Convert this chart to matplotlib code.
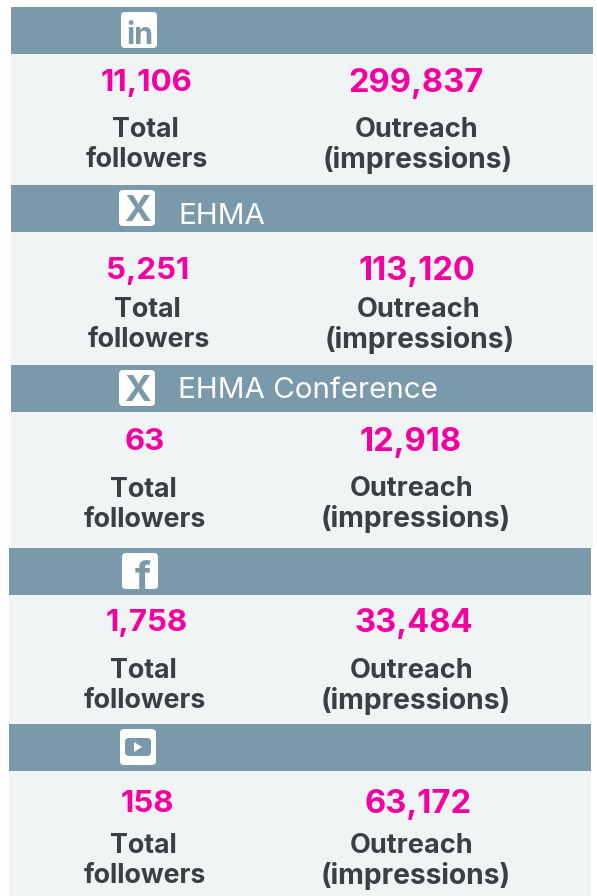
import matplotlib
matplotlib.use("Agg")
import matplotlib.pyplot as plt
from matplotlib.patches import Rectangle, FancyBboxPatch, Polygon

followers = ["11,106", "5,251", "63", "1,758", "158"]
impressions = ["299,837", "113,120", "12,918", "33,484", "63,172"]
titles = ["", "EHMA", "EHMA Conference", "", ""]
title_y = [0, 213, 388, 0, 0]
icons = ["in", "X", "X", "f", "yt"]

band_top = [7, 185, 365, 548, 724]
panel_bottom = [185, 365, 548, 724, 896]
left_edge = [11, 11, 11, 9, 9]
right_edge = [593, 593, 593, 591, 591]
icon_x = [121, 119, 119, 122, 120]
val_y = [80, 268, 439, 620, 801]
val_left_x = [146, 148, 145, 147, 147]
val_right_x = [416, 417, 411, 414, 418]
lab_y = [(127, 157), (307, 337), (487, 517), (668, 698), (843, 873)]
rlab_y = [(127, 157), (307, 337), (486, 516), (668, 698), (843, 873)]
lab_x = [(145, 147), (147, 149), (143, 145), (143, 145), (143, 145)]
rlab_x = [(417, 418), (419, 420), (412, 416), (412, 416), (412, 416)]

BAND = "#7a9aab"
PANEL = "#f0f4f5"
PINK = "#f400a1"
DARK = "#3a3f42"
FONT = "Inter"

fig = plt.figure(figsize=(5.97, 8.96), dpi=100)
ax = fig.add_axes([0, 0, 1, 1])
ax.set_xlim(0, 597)
ax.set_ylim(896, 0)
ax.axis("off")

for i in range(5):
    l, r, t = left_edge[i], right_edge[i], band_top[i]
    ax.add_patch(Rectangle((l, t), r - l, panel_bottom[i] - t, fc=PANEL, ec="none"))
    ax.add_patch(Rectangle((l, t), r - l, 47, fc=BAND, ec="none"))
    x0, y0 = icon_x[i], t + 5
    ax.add_patch(FancyBboxPatch((x0 + 3, y0 + 3), 30, 30, boxstyle="round,pad=3,rounding_size=4",
                                fc="white", ec="none"))
    cx, cy = x0 + 18, y0 + 18
    if icons[i] == "X":
        ax.text(cx, cy, "X", color=BAND, fontsize=26, fontweight="bold", family=FONT,
                ha="center", va="center_baseline")
    elif icons[i] == "in":
        ax.text(cx + 1, cy + 3, "in", color=BAND, fontsize=22, fontweight="bold", family=FONT,
                ha="center", va="center_baseline")
    elif icons[i] == "f":
        ax.text(cx + 3, cy + 4, "f", color=BAND, fontsize=29, fontweight="bold", family=FONT,
                ha="center", va="center_baseline", clip_on=False)
    else:
        ax.add_patch(FancyBboxPatch((cx - 11, cy - 7), 22, 14, boxstyle="round,pad=2,rounding_size=4",
                                    fc=BAND, ec="none"))
        ax.add_patch(Polygon([(cx - 4, cy - 5), (cx - 4, cy + 5), (cx + 4, cy)], fc="white", ec="none"))
    if titles[i]:
        ax.text(178, title_y[i], titles[i], color="white", fontsize=21.3, family=FONT,
                ha="left", va="center_baseline")
    ax.text(val_left_x[i], val_y[i], followers[i], color=PINK, fontsize=22.5, fontweight="bold",
            family=FONT, ha="center", va="center_baseline")
    ax.text(val_right_x[i], val_y[i], impressions[i], color=PINK, fontsize=23.5, fontweight="bold",
            family=FONT, ha="center", va="center_baseline")
    ax.text(lab_x[i][0], lab_y[i][0], "Total", color=DARK, fontsize=19.3, fontweight="bold",
            family=FONT, ha="center", va="center_baseline")
    ax.text(lab_x[i][1], lab_y[i][1], "followers", color=DARK, fontsize=19.3, fontweight="bold",
            family=FONT, ha="center", va="center_baseline")
    ax.text(rlab_x[i][0], rlab_y[i][0], "Outreach", color=DARK, fontsize=19.5, fontweight="bold",
            family=FONT, ha="center", va="center_baseline")
    ax.text(rlab_x[i][1], rlab_y[i][1], "(impressions)", color=DARK, fontsize=20.3, fontweight="bold",
            family=FONT, ha="center", va="center_baseline")

fig.savefig("out.png", dpi=100, facecolor="white")
